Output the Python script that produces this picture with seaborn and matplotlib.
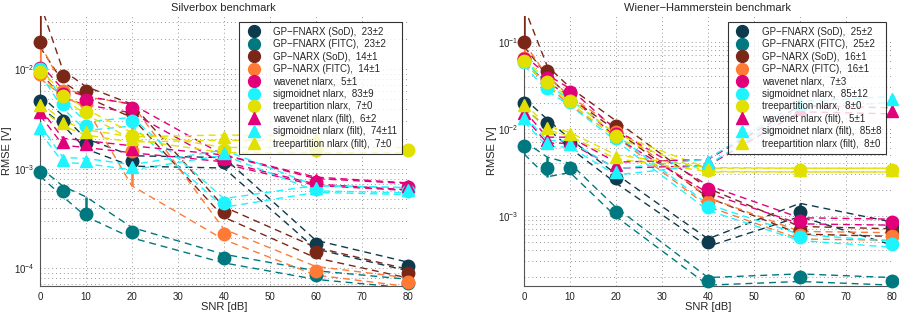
import numpy as np
import pandas as pd
import seaborn as sns
import matplotlib.pyplot as plt

snr = [0, 5, 10, 20, 40, 60, 80]

names = ["GP\u2212FNARX (SoD)", "GP\u2212FNARX (FITC)", "GP\u2212NARX (SoD)", "GP\u2212NARX (FITC)",
         "wavenet nlarx", "sigmoidnet nlarx", "treepartition nlarx",
         "wavenet nlarx (filt)", "sigmoidnet nlarx (filt)", "treepartition nlarx (filt)"]
colores = ["#0d3a4c", "#00787f", "#7a2718", "#ff7a35", "#e2007a", "#1ef4ff", "#e2e000",
           "#e2007a", "#1ef4ff", "#e2e000"]
marcas = ["o"] * 7 + ["^"] * 3

# Silverbox: medias y tamaño relativo de las barras (arriba / abajo)
sb_tags = ["23\u00b12", "23\u00b12", "14\u00b11", "14\u00b11", "5\u00b11", "83\u00b19", "7\u00b10",
           "6\u00b12", "74\u00b111", "7\u00b10"]
sb_mean = [
    [4.8e-3, 3.05e-3, 1.8e-3, 1.21e-3, 1.16e-3, 1.74e-4, 1.05e-4],
    [9.4e-4, 5.98e-4, 3.49e-4, 2.30e-4, 1.26e-4, 8.6e-5, 7.06e-5],
    [1.87e-2, 8.5e-3, 6.0e-3, 3.73e-3, 3.71e-4, 1.45e-4, 8.9e-5],
    [9.0e-3, 6.0e-3, 4.6e-3, 1.5e-3, 2.21e-4, 9.5e-5, 7.3e-5],
    [1.04e-2, 5.7e-3, 4.9e-3, 4.06e-3, 1.25e-3, 7.4e-4, 6.6e-4],
    [1.0e-2, 4.5e-3, 2.7e-3, 3.0e-3, 4.57e-4, 6.3e-4, 6.0e-4],
    [9.5e-3, 5.4e-3, 3.76e-3, 2.14e-3, 1.55e-3, 1.55e-3, 1.55e-3],
    [3.76e-3, 1.88e-3, 1.78e-3, 1.58e-3, 1.28e-3, 7.65e-4, 6.7e-4],
    [2.55e-3, 1.23e-3, 1.2e-3, 1.04e-3, 1.46e-3, 6.4e-4, 6.1e-4],
    [4.35e-3, 2.87e-3, 2.33e-3, 1.98e-3, 2.07e-3, 2.0e-3, np.nan],
]
sb_up = [
    [.15, .12, .12, .12, .12, .1, .1],
    [.1, .12, .5, .12, .1, .1, .1],
    [1.5, .15, .12, .2, .12, .12, .1],
    [1.0, .12, .15, 2.0, .12, .1, .1],
    [.1, .1, .1, .1, .1, .08, .08],
    [.1, .1, .1, .1, .1, .08, .08],
    [.06, .06, .06, .08, .06, .06, .06],
    [.08, .08, .08, .08, .08, .08, .08],
    [.08, .06, .06, .06, .06, .06, .06],
    [.06, .06, .06, .06, .06, .06, .06],
]
sb_dn = [
    [.12, .1, .12, .12, .12, .1, .1],
    [.1, .12, .05, .12, .1, .1, .1],
    [.1, .12, .12, .12, .12, .12, .1],
    [.1, .1, .1, .55, .12, .1, .1],
    [.1, .1, .1, .1, .1, .08, .08],
    [.1, .1, .1, .1, .1, .08, .08],
    [.06, .06, .06, .08, .06, .06, .06],
    [.08, .08, .08, .08, .08, .08, .08],
    [.08, .06, .06, .06, .06, .06, .06],
    [.06, .06, .06, .06, .06, .06, .06],
]

# Wiener-Hammerstein
wh_tags = ["25\u00b12", "25\u00b12", "16\u00b11", "16\u00b11", "7\u00b13", "85\u00b112", "8\u00b10",
           "5\u00b11", "85\u00b18", "8\u00b10"]
wh_mean = [
    [1.99e-2, 1.15e-2, 6.8e-3, 2.69e-3, 4.93e-4, 1.11e-3, 7.7e-4],
    [6.4e-3, 3.5e-3, 3.56e-3, 1.11e-3, 1.77e-4, 1.95e-4, 1.77e-4],
    [1.0e-1, 4.64e-2, 2.6e-2, 1.08e-2, 1.84e-3, 6.84e-4, 6.43e-4],
    [6.5e-2, 3.6e-2, 2.1e-2, 9.2e-3, 1.45e-3, 6.0e-4, 5.8e-4],
    [6.3e-2, 3.8e-2, 2.62e-2, 8.8e-3, 2.03e-3, 8.77e-4, 8.46e-4],
    [5.83e-2, 2.96e-2, 2.01e-2, 7.9e-3, 1.25e-3, 5.64e-4, 4.72e-4],
    [6.05e-2, 3.41e-2, 2.1e-2, 8.24e-3, 3.35e-3, 3.35e-3, 3.35e-3],
    [1.5e-2, 7.4e-3, 7.4e-3, 3.82e-3, 4.1e-3, 1.7e-2, 1.61e-2],
    [1.31e-2, 6.8e-3, 6.66e-3, 3.2e-3, 4.17e-3, 1.9e-2, 2.17e-2],
    [1.87e-2, 1.03e-2, 8.6e-3, 4.76e-3, 3.4e-3, 3.35e-3, 3.35e-3],
]
wh_up = [
    [.12, .12, .12, .12, .1, .25, .1],
    [.12, .35, .12, .12, .1, .1, .1],
    [1.5, .14, .14, .14, .12, .1, .1],
    [.5, .12, .12, .12, .12, .1, .1],
    [.1, .1, .1, .1, .1, .08, .08],
    [.08, .08, .08, .08, .08, .08, .08],
    [.05, .05, .05, .05, .05, .05, .05],
    [.08, .08, .08, .08, .08, .08, .08],
    [.08, .08, .08, .08, .08, .08, .08],
    [.05, .05, .05, .05, .05, .05, .05],
]
wh_dn = [
    [.12, .12, .12, .12, .1, .12, .4],
    [.2, .2, .12, .12, .1, .1, .1],
    [.12, .12, .12, .12, .12, .1, .1],
    [.12, .12, .12, .12, .12, .1, .1],
    [.1, .1, .1, .1, .1, .08, .08],
    [.08, .08, .08, .08, .08, .08, .08],
    [.05, .05, .05, .05, .05, .05, .05],
    [.08, .08, .08, .08, .08, .08, .08],
    [.08, .08, .08, .08, .08, .08, .08],
    [.05, .05, .05, .05, .05, .05, .05],
]

sns.set_theme(style="white")
plt.rcParams['font.family'] = ['Liberation Sans', 'DejaVu Sans']
plt.rcParams['mathtext.fontset'] = 'custom'
plt.rcParams['mathtext.rm'] = 'Liberation Sans'


def panel(ax, titulo, tags, means, ups, dns, ylim):
    filas = []
    for i, n in enumerate(names):
        m = np.array(means[i])
        for j, x in enumerate(snr):
            filas.append({'serie': n, 'snr': x, 'mean': m[j],
                          'hi': m[j] * (1 + ups[i][j]), 'lo': m[j] * (1 - dns[i][j])})
    df = pd.DataFrame(filas)

    # lineas discontinuas de los limites
    for i, n in enumerate(names):
        d = df[df.serie == n]
        for col in ['hi', 'lo']:
            sns.lineplot(data=d, x='snr', y=col, color=colores[i], ax=ax, lw=1.0,
                         linestyle=(0, (5, 3.5)), legend=False, zorder=2)

    for i, n in enumerate(names):
        d = df[df.serie == n]
        ax.vlines(d.snr, d.lo, d.hi, color=colores[i], lw=1.8, zorder=3)
        ax.plot(d.snr, d['mean'], ls='none', marker=marcas[i], ms=9, color=colores[i],
                mec=colores[i], zorder=4, clip_on=False,
                label=n + ",  " + tags[i])

    ax.set_yscale('log')
    ax.set_xlim(0, 80)
    ax.set_ylim(*ylim)
    ax.set_xticks(range(0, 81, 10))
    ax.grid(True, which='major', axis='x', ls=(0, (1, 3)), color='#999999', lw=0.7)
    ax.grid(True, which='both', axis='y', ls=(0, (1, 3)), color='#999999', lw=0.7)
    for s in ['top', 'right']:
        ax.spines[s].set_visible(False)
    for s in ['left', 'bottom']:
        ax.spines[s].set_color('#555555')
        ax.spines[s].set_linewidth(0.8)
    ax.tick_params(axis='both', labelsize=7, length=2, pad=2, colors='#222222')
    ax.tick_params(axis='y', which='minor', length=0)
    ax.set_xlabel('SNR [dB]', fontsize=8, labelpad=0)
    ax.set_ylabel('RMSE [V]', fontsize=8, labelpad=1)
    ax.set_title(titulo, fontsize=8, pad=4)
    leg = ax.legend(loc='upper right', bbox_to_anchor=(0.985, 0.978), borderaxespad=0,
                    fontsize=7, frameon=True, fancybox=False, edgecolor='black',
                    handletextpad=1.0, labelspacing=0.25, borderpad=0.5, handlelength=2.0,
                    markerscale=0.95)
    leg.get_frame().set_linewidth(0.8)
    leg.set_zorder(10)


fig = plt.figure(figsize=(8.99, 3.15), dpi=100)
ax1 = fig.add_axes([0.0445, 0.092, 0.409, 0.857])
ax2 = fig.add_axes([0.583, 0.092, 0.409, 0.857])

panel(ax1, 'Silverbox benchmark', sb_tags, sb_mean, sb_up, sb_dn, (6.64e-5, 3.44e-2))
panel(ax2, 'Wiener\u2212Hammerstein benchmark', wh_tags, wh_mean, wh_up, wh_dn, (1.556e-4, 0.197))

fig.savefig('out.png', dpi=100)
